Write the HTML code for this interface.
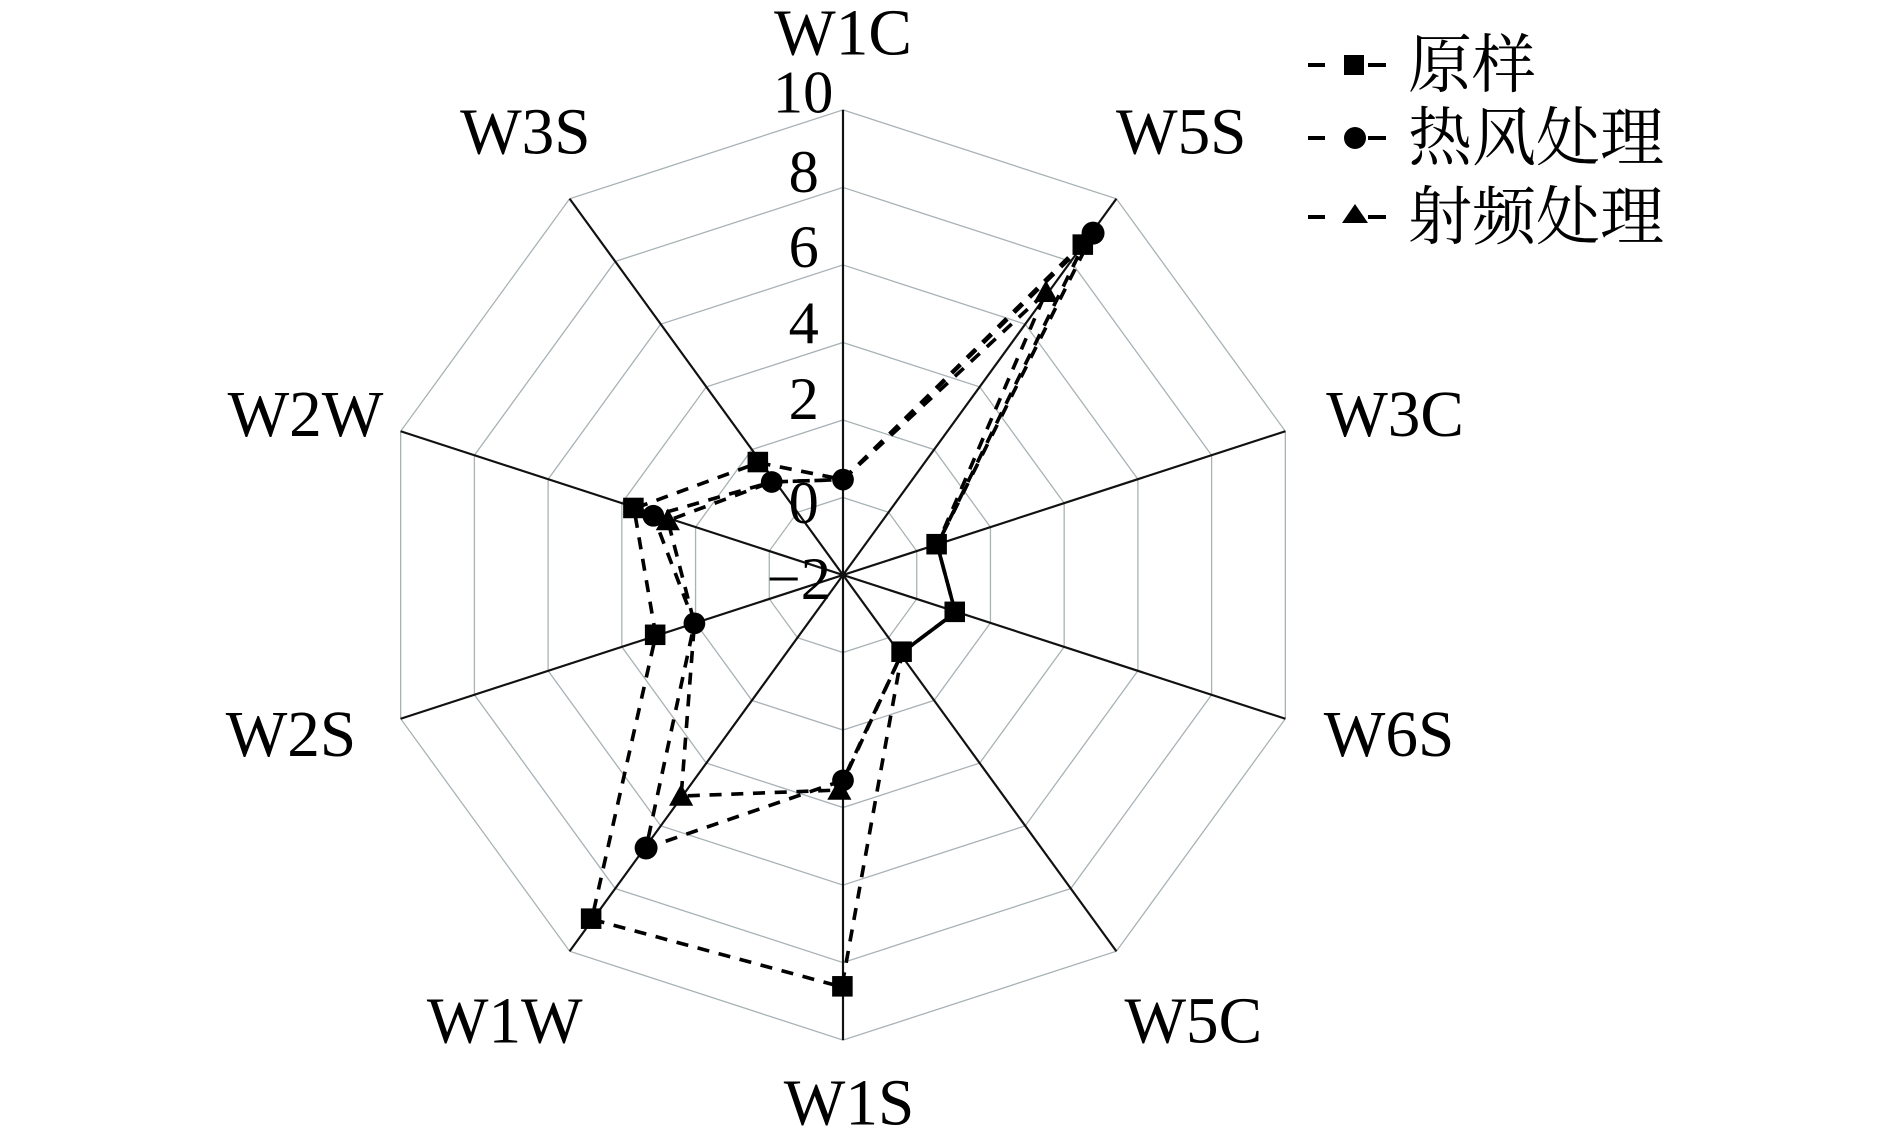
<!DOCTYPE html>
<html><head><meta charset="utf-8"><style>
html,body{margin:0;padding:0;background:#fff;}
svg{display:block;}
text{font-family:"Liberation Serif","Noto Serif CJK SC",serif;fill:#000;}
</style></head><body>
<svg width="1890" height="1145" viewBox="0 0 1890 1145" xmlns="http://www.w3.org/2000/svg">
<g transform="translate(843,575) scale(1.208) translate(-700,-477)">
 <g transform="translate(700,477)" fill="none" stroke="#a9b2b6" stroke-width="1.3">
  <polygon vector-effect="non-scaling-stroke" transform="scale(64.17)" points="0,-1 .5878,-.809 .9511,-.309 .9511,.309 .5878,.809 0,1 -.5878,.809 -.9511,.309 -.9511,-.309 -.5878,-.809"/>
  <polygon vector-effect="non-scaling-stroke" transform="scale(128.33)" points="0,-1 .5878,-.809 .9511,-.309 .9511,.309 .5878,.809 0,1 -.5878,.809 -.9511,.309 -.9511,-.309 -.5878,-.809"/>
  <polygon vector-effect="non-scaling-stroke" transform="scale(192.5)" points="0,-1 .5878,-.809 .9511,-.309 .9511,.309 .5878,.809 0,1 -.5878,.809 -.9511,.309 -.9511,-.309 -.5878,-.809"/>
  <polygon vector-effect="non-scaling-stroke" transform="scale(256.67)" points="0,-1 .5878,-.809 .9511,-.309 .9511,.309 .5878,.809 0,1 -.5878,.809 -.9511,.309 -.9511,-.309 -.5878,-.809"/>
  <polygon vector-effect="non-scaling-stroke" transform="scale(320.83)" points="0,-1 .5878,-.809 .9511,-.309 .9511,.309 .5878,.809 0,1 -.5878,.809 -.9511,.309 -.9511,-.309 -.5878,-.809"/>
  <polygon vector-effect="non-scaling-stroke" transform="scale(385)" points="0,-1 .5878,-.809 .9511,-.309 .9511,.309 .5878,.809 0,1 -.5878,.809 -.9511,.309 -.9511,-.309 -.5878,-.809"/>
  <g stroke="#111" stroke-width="1.8">
   <line x1="0" y1="-385" x2="0" y2="385"/>
   <line x1="226.3" y1="-311.5" x2="-226.3" y2="311.5"/>
   <line x1="366.2" y1="-119" x2="-366.2" y2="119"/>
   <line x1="366.2" y1="119" x2="-366.2" y2="-119"/>
   <line x1="226.3" y1="311.5" x2="-226.3" y2="-311.5"/>
  </g>
 </g>
 <g font-size="50" text-anchor="end">
  <text x="692" y="94">10</text>
  <text x="680" y="160">8</text>
  <text x="680" y="222">6</text>
  <text x="680" y="285">4</text>
  <text x="680" y="348">2</text>
  <text x="680" y="434">0</text>
  <text x="690" y="497">−2</text>
 </g>
 <g font-size="54" text-anchor="middle">
  <text x="700" y="46">W1C</text>
  <text x="980" y="128">W5S</text>
  <text x="1157" y="362">W3C</text>
  <text x="1152" y="627">W6S</text>
  <text x="990" y="864">W5C</text>
  <text x="705" y="932">W1S</text>
  <text x="420" y="864">W1W</text>
  <text x="243" y="627">W2S</text>
  <text x="255" y="362">W2W</text>
  <text x="437" y="128">W3S</text>
 </g>
 <g fill="none" stroke="#000" stroke-width="3" stroke-dasharray="10,8">
  <polygon points="700,398 899,204 778,452 793,508 749,541 699,818 492,762 545,527 527,422 630,384"/>
  <polygon points="700,398 907,194 778,452 793,508 749,541 700,647 537,703 577,517 543,428 641,400"/>
  <polygon points="700,398 868,243 778,452 793,508 749,541 697,655 566,660 577,517 555,432 641,400"/>
 </g>
 <g fill="#000">
  <rect x="691" y="809" width="17" height="17"/><rect x="483" y="753" width="17" height="17"/>
  <rect x="536" y="518" width="17" height="17"/><rect x="518" y="413" width="17" height="17"/>
  <rect x="621" y="375" width="17" height="17"/><rect x="890" y="195" width="17" height="17"/>
  <rect x="769" y="443" width="17" height="17"/><rect x="784" y="499" width="17" height="17"/>
  <rect x="740" y="532" width="17" height="17"/>
  <circle cx="700" cy="398" r="9"/><circle cx="907" cy="194" r="9.5"/>
  <circle cx="700" cy="647" r="9"/><circle cx="537" cy="703" r="9.5"/>
  <circle cx="577" cy="517" r="9"/><circle cx="543" cy="428" r="9"/>
  <circle cx="641" cy="400" r="9"/>
  <polygon points="868,233 878,251 858,251"/><polygon points="697,645 707,663 687,663"/>
  <polygon points="566,650 576,668 556,668"/><polygon points="555,422 565,440 545,440"/>
 </g>
</g>
<g>
 <g stroke="#000" stroke-width="4">
  <line x1="1308" y1="65" x2="1325" y2="65"/><line x1="1368" y1="65" x2="1386" y2="65"/>
  <line x1="1308" y1="138" x2="1325" y2="138"/><line x1="1368" y1="138" x2="1386" y2="138"/>
  <line x1="1308" y1="217" x2="1325" y2="217"/><line x1="1368" y1="217" x2="1386" y2="217"/>
 </g>
 <rect x="1344" y="55" width="20" height="20" fill="#000"/>
 <circle cx="1355" cy="138" r="11" fill="#000"/>
 <polygon points="1355,204 1368,223 1342,223" fill="#000"/>
 <g font-size="64">
  <text x="1408" y="87">原样</text>
  <text x="1408" y="160">热风处理</text>
  <text x="1408" y="239">射频处理</text>
 </g>
</g>
</svg>
</body></html>
